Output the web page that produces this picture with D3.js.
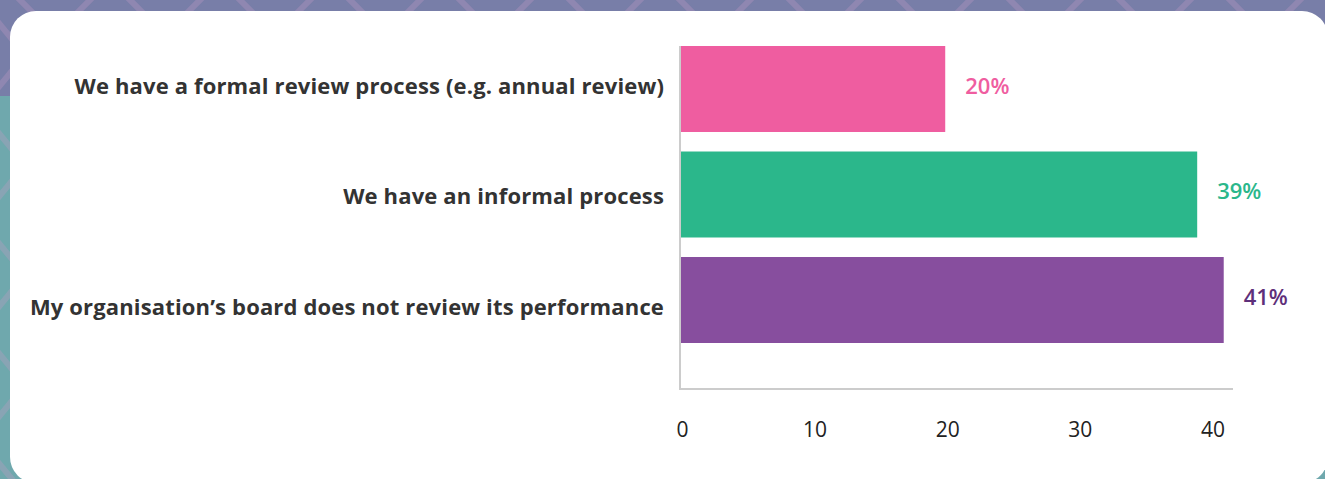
<!DOCTYPE html>
<html>
    <head>
        <script src="https://d3js.org/d3.v7.min.js"></script>
        <style>
            body{ margin:0; overflow:hidden; }
            text{ font-family:"Open Sans", sans-serif; }
        </style>
    </head>
    <body>
        <svg height="479" width="1325" id="chart"></svg>
        <script>
            // data
            const categories=[
                "We have a formal review process (e.g. annual review)",
                "We have an informal process",
                "My organisation\u2019s board does not review its performance"
            ];
            const values=[20, 39, 41];
            const barColors=["#ef5da0", "#2bb78b", "#874e9e"];
            const labelColors=["#ef5da0", "#2bb78b", "#5e2f7a"];
            const tickValues=[0, 10, 20, 30, 40];

            let svg=d3.select("#chart");
            let width=+svg.attr("width");
            let height=+svg.attr("height");

            // background: purple top, teal left, faint zigzag stripes
            svg.append("rect").attr("width", width).attr("height", height).style("fill", "#6fa8ad");
            svg.append("rect").attr("width", width).attr("height", 96).style("fill", "#787ea8");
            let stripes=svg.append("g").style("stroke", "#c79ac6").style("stroke-opacity", 0.3)
                .style("stroke-width", 6).style("fill", "none");
            for(let i=-2; i<16; i++){
                let x0=i*110;
                stripes.append("path").attr("d", `M${x0},-20 L${x0+55},35 L${x0+110},-20`);
                stripes.append("path").attr("d", `M-20,${x0} L25,${x0+55} L-20,${x0+110}`);
            }

            // white card
            svg.append("rect")
                .attr("x", 10).attr("y", 11)
                .attr("width", 1318).attr("height", 472)
                .attr("rx", 26)
                .style("fill", "white");

            let x=d3.scaleLinear().domain([0, 41.7]).range([680, 1233]);
            let y=d3.scaleBand().domain(categories).range([46, 343]).paddingInner(0.185).paddingOuter(0);
            let yLabel=d3.scaleBand().domain(categories).range([30.75, 362.25]);

            // axis lines
            svg.append("line").attr("x1", 680).attr("x2", 680).attr("y1", 46).attr("y2", 389)
                .style("stroke", "#cccccc").style("stroke-width", 2);
            svg.append("line").attr("x1", 679).attr("x2", 1233).attr("y1", 389).attr("y2", 389)
                .style("stroke", "#cccccc").style("stroke-width", 2);

            let xAxis=svg.append("g")
                .attr("transform", "translate(2,422)")
                .call(d3.axisBottom(x).tickValues(tickValues).tickSize(0).tickPadding(0));
            xAxis.select(".domain").remove();
            xAxis.selectAll("text")
                .style("font-family", "'Open Sans', sans-serif")
                .style("font-size", "21px")
                .style("fill", "#222");

            svg.selectAll("rect.bar").data(values)
                .join("rect")
                .attr("class", "bar")
                .attr("x", x(0)+1)
                .attr("y", (d,i)=>y(categories[i]))
                .attr("width", d=>x(d)-x(0)-1)
                .attr("height", y.bandwidth())
                .style("fill", (d,i)=>barColors[i]);

            svg.selectAll("text.value").data(values)
                .join("text")
                .attr("class", "value")
                .attr("x", d=>x(d)+20)
                .attr("y", (d,i)=>y(categories[i])+y.bandwidth()/2-3)
                .attr("dy", "0.35em")
                .style("font-size", "22px")
                .style("font-weight", 600)
                .style("fill", (d,i)=>labelColors[i])
                .text(d=>d+"%");

            svg.selectAll("text.cat").data(categories)
                .join("text")
                .attr("class", "cat")
                .attr("x", 664)
                .attr("y", d=>yLabel(d)+yLabel.bandwidth()/2)
                .attr("dy", "0.35em")
                .attr("text-anchor", "end")
                .style("font-size", "22px")
                .style("font-weight", 700)
                .style("letter-spacing", "0.15px")
                .style("fill", "#333")
                .text(d=>d);
        </script>
    </body>
</html>
